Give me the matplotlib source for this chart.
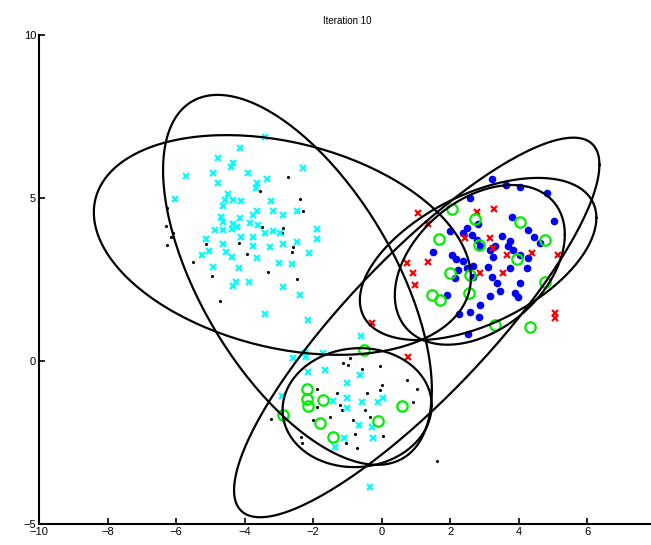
import numpy as np
import matplotlib
matplotlib.use("Agg")
import matplotlib.pyplot as plt

# Points coloured by their current assignment, after 10 EM iterations.
cyan_x = [-3.41, -4.14, -4.78, -4.34, -4.40, -5.71, -4.93, -3.91, -2.30, -4.78,
          -3.64, -3.35, -3.67, -6.03, -4.49, -4.58, -4.34, -4.11, -4.64, -3.24,
          -3.18, -2.48, -3.64, -2.89, -4.69, -4.14, -3.76, -4.64, -4.34, -3.85,
          -3.62, -1.90, -4.87, -4.64, -4.37, -4.23, -3.41, -3.18, -2.97, -1.90,
          -5.13, -4.11, -3.76, -2.48, -4.64, -3.76, -3.27, -2.89, -5.04, -4.55,
          -5.25, -4.37, -3.64, -2.13, -3.00, -2.62, -4.93, -4.17, -4.26, -4.34,
          -3.88, -2.89, -2.39, -3.41, -2.16,
          -0.61, -2.24, -1.72, -2.59, -2.22, -1.66, -2.16, -0.64, -1.02, -2.92,
          -1.02, -1.43, -0.58, -0.12, 0.03, -1.02, -0.67, -0.29, -0.26, -1.11,
          -1.37, -0.35]
cyan_y = [6.87, 6.53, 6.23, 6.07, 5.95, 5.67, 5.77, 5.77, 5.92, 5.46,
          5.46, 5.58, 5.31, 4.97, 5.12, 4.94, 4.94, 4.91, 4.75, 4.91,
          4.60, 4.60, 4.60, 4.48, 4.42, 4.39, 4.48, 4.26, 4.20, 4.23,
          4.17, 4.05, 4.02, 4.02, 4.05, 4.11, 3.93, 3.99, 3.93, 3.74,
          3.74, 3.80, 3.80, 3.65, 3.59, 3.53, 3.50, 3.59, 3.37, 3.34,
          3.25, 3.19, 3.16, 3.31, 3.01, 2.98, 2.88, 2.85, 2.42, 2.30,
          2.42, 2.27, 2.02, 1.44, 1.26,
          0.77, 0.25, 0.25, 0.09, 0.12, -0.28, -0.34, -0.43, -0.67, -1.07,
          -1.13, -1.23, -1.26, -1.26, -1.13, -1.44, -1.96, -2.02, -2.36, -2.36,
          -2.64, -3.87]

black_x = [-2.74, -2.39, -2.30, -3.56, -2.89, -2.92, -3.50, -6.27, -6.30, -6.09,
           -6.15, -6.27, -5.13, -4.17, -3.94, -2.59, -2.62, -5.51, -4.96, -3.32,
           -2.48, -4.72,
           -0.93, -1.14, -0.99, -0.06, -0.58, 0.73, 0.00, 1.02, -1.31, -1.90,
           -0.44, -0.06, -1.22, -1.17, -0.50, 0.90, -1.90, -1.52, -2.01, -0.85,
           -0.35, 0.03, -2.36, -2.33, -3.24, -0.79, -1.05, -0.73, 1.60]
black_y = [5.64, 4.97, 4.60, 5.21, 4.08, 3.93, 4.11, 4.69, 4.14, 3.93,
           3.80, 3.56, 3.59, 3.62, 3.28, 3.50, 3.34, 3.04, 2.61, 2.73,
           2.52, 1.84,
           0.09, -0.06, -0.12, -0.15, -0.25, -0.58, -0.74, -0.86, -0.98, -0.86,
           -0.98, -0.89, -1.35, -1.50, -1.50, -1.26, -1.41, -1.72, -1.81, -1.81,
           -1.72, -2.30, -2.33, -2.52, -1.78, -2.24, -2.52, -2.67, -3.07]

blue_x = [3.21, 3.62, 4.02, 4.81, 2.57, 3.79, 5.01, 2.80, 2.48, 1.98,
          4.26, 4.43, 4.61, 2.36, 2.62, 3.50, 3.73, 2.77, 2.86, 3.67,
          3.82, 3.29, 3.15, 4.02, 1.49, 2.04, 2.16, 2.36, 3.24, 3.09,
          3.73, 4.23, 2.22, 2.48, 2.65, 2.13, 2.65, 3.21, 3.35, 3.44,
          1.90, 3.88, 3.97, 2.86, 3.15, 2.24, 2.57, 2.83, 2.51, 4.26, 4.02]
blue_y = [5.58, 5.40, 5.34, 5.15, 5.00, 4.42, 4.29, 4.20, 4.08, 3.99,
          4.02, 3.80, 3.62, 3.93, 3.87, 3.83, 3.68, 3.71, 3.53, 3.53,
          3.40, 3.53, 3.40, 3.25, 3.34, 3.25, 3.13, 3.07, 3.19, 2.88,
          2.85, 2.85, 2.79, 2.85, 2.91, 2.55, 2.58, 2.58, 2.39, 2.15,
          2.02, 2.09, 1.96, 1.72, 1.99, 1.44, 1.50, 1.35, 0.83, 3.16, 2.39]

red_x = [2.77, 3.27, 1.34, 2.42, 3.15, 3.24, 3.64, 4.37, 0.73, 1.34,
         0.90, 0.96, 2.86, 3.53, 5.13, 5.04, 5.04, 0.76, -0.29, 1.05]
red_y = [4.57, 4.66, 4.20, 3.77, 3.77, 3.47, 3.25, 3.31, 3.01, 3.04,
         2.70, 2.33, 2.70, 2.70, 3.25, 1.47, 1.32, 0.12, 1.17, 4.54]

green_x = [2.04, 2.71, 4.02, 1.66, 4.75, 2.83, 3.94, 1.98, 2.57, 4.75,
           1.46, 1.69, 2.54, 3.29, 4.31,
           -0.52, -2.19, -2.19, -2.16, -1.72, -2.89, -1.81, -1.43, -0.12, 0.58]
green_y = [4.66, 4.36, 4.26, 3.74, 3.71, 3.56, 3.13, 2.70, 2.64, 2.42,
           2.02, 1.87, 2.09, 1.10, 1.04,
           0.34, -0.86, -1.17, -1.38, -1.20, -1.66, -1.90, -2.33, -1.84, -1.38]

# Component contours: centre and shape matrix (x'S^-1x = 1 on the curve).
centres = [(-2.90, 3.56), (-2.46, 2.49), (-0.72, -1.43),
           (2.86, 2.95), (2.81, 3.13), (1.02, 1.03)]
shapes = [[[30.25, -5.5], [-5.5, 11.36]],
          [[15.37, -13.2], [-13.2, 32.2]],
          [[4.73, 0.15], [0.15, 3.33]],
          [[6.15, 2.31], [2.31, 6.0]],
          [[11.9, 4.35], [4.35, 6.19]],
          [[28.4, 26.6], [26.6, 33.9]]]

xticks = list(range(-10, 7, 2))
yticks = [-5, 0, 5, 10]

plt.rcParams["font.family"] = ["Liberation Sans", "DejaVu Sans"]

fig = plt.figure(figsize=(6.51, 5.45), dpi=100)
ax = fig.add_axes([0.0599, 0.0385, 0.9478, 0.8972])

ax.plot(black_x, black_y, ".", color="k", ms=2.5)
ax.plot(cyan_x, cyan_y, "x", color="#00ffff", ms=5, mew=1.6)
ax.plot(blue_x, blue_y, "o", color="#0000ff", ms=5.5, mew=0)
ax.plot(red_x, red_y, "x", color="#ff0000", ms=5, mew=1.6)
ax.plot(green_x, green_y, "o", mfc="none", mec="#00ee00", ms=7.5, mew=1.6)

t = np.linspace(0, 2 * np.pi, 200)
circle = np.vstack([np.cos(t), np.sin(t)])
for c, S in zip(centres, shapes):
    L = np.linalg.cholesky(np.array(S))
    pts = L @ circle
    ax.plot(pts[0] + c[0], pts[1] + c[1], color="k", lw=1.6)

ax.set_xlim(-10, 8)
ax.set_ylim(-5, 10)
ax.set_xticks(xticks)
ax.set_yticks(yticks)
ax.tick_params(direction="in", length=4, width=1.2, labelsize=8, pad=2)
for side in ("top", "right"):
    ax.spines[side].set_visible(False)
for side in ("left", "bottom"):
    ax.spines[side].set_linewidth(1.5)
ax.set_title("Iteration 10", fontsize=7, pad=8)

fig.savefig("out.png", dpi=100)
